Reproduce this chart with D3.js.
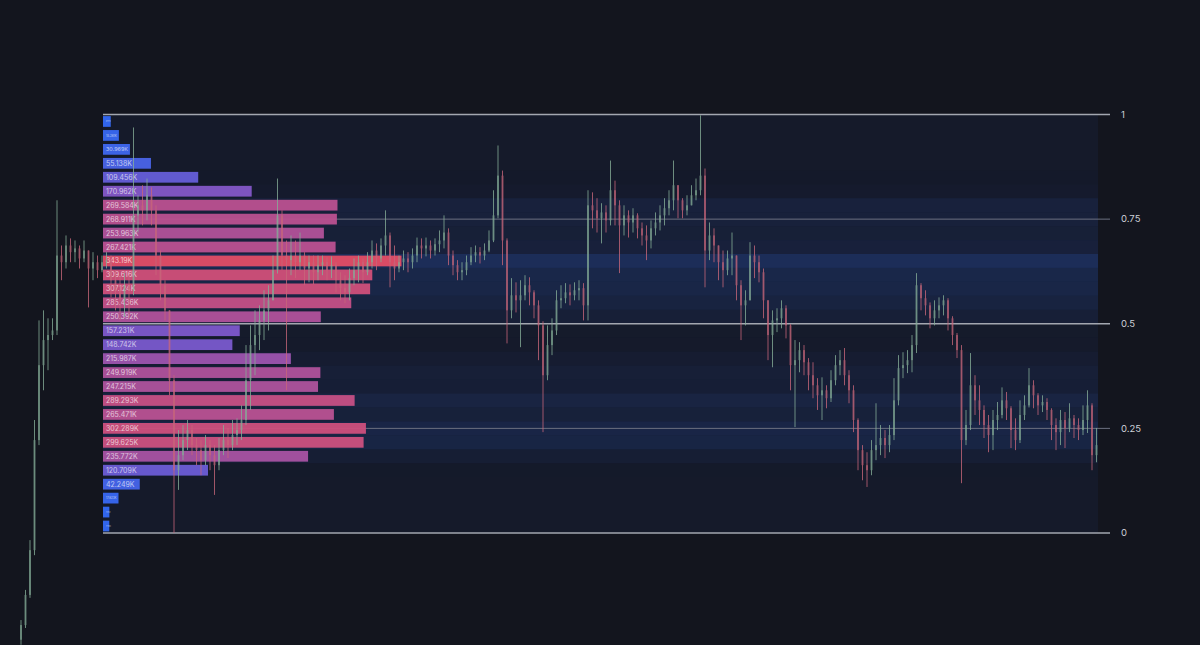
<!DOCTYPE html>
<html><head><meta charset="utf-8">
<script src="https://cdn.jsdelivr.net/npm/d3@7"></script>
<style>
html,body{margin:0;padding:0;background:#13151e;}
svg{display:block;}
</style>
</head><body>
<svg id="chart" width="1200" height="645"></svg>
<script>
// Fibonacci-style levels on the right axis
const levels = [0, 0.25, 0.5, 0.75, 1];
const levelLabels = ["0", "0.25", "0.5", "0.75", "1"];

// Volume profile (K), 30 price bins from top (level 1) to bottom (level 0)
const volumeK = [8.912, 18.261, 30.969, 55.138, 109.456, 170.962, 269.584, 268.911, 253.963, 267.421,
  343.19, 309.616, 307.124, 285.436, 250.392, 157.231, 148.742, 215.987, 249.919, 247.215,
  289.293, 265.471, 302.289, 299.625, 235.772, 120.709, 42.249, 17.823, 7.315, 7.208];

// Candles (price in level units)
const opens = [-.255,-.220,-.148,-.041,.222,.401,.461,.473,.484,.663,
.647,.687,.671,.680,.656,.675,.632,.647,.628,.647,
.652,.604,.580,.556,.592,.580,.759,.783,.771,.807,
.771,.663,.592,.532,.365,.150,.186,.222,.246,.210,
.198,.174,.210,.186,.162,.198,.222,.210,.234,.246,
.270,.365,.449,.473,.508,.532,.556,.628,.759,.663,
.652,.663,.647,.663,.632,.647,.623,.640,.647,.628,
.640,.604,.585,.575,.609,.628,.647,.623,.647,.675,
.656,.687,.711,.647,.632,.647,.656,.647,.663,.687,
.680,.687,.675,.690,.699,.718,.663,.640,.623,.628,
.647,.663,.671,.663,.675,.699,.759,.854,.699,.532,
.568,.556,.568,.592,.575,.544,.496,.377,.449,.484,
.556,.561,.575,.568,.580,.585,.544,.783,.771,.752,
.766,.747,.819,.783,.735,.759,.742,.759,.728,.711,
.699,.728,.742,.759,.776,.795,.831,.795,.771,.783,
.807,.819,.854,.675,.711,.687,.647,.628,.656,.663,
.592,.544,.556,.663,.647,.623,.556,.473,.508,.513,
.537,.496,.401,.413,.437,.408,.377,.353,.329,.341,
.322,.365,.401,.413,.377,.341,.270,.198,.162,.150,
.198,.210,.227,.210,.234,.317,.394,.401,.413,.449,
.592,.561,.544,.513,.532,.544,.556,.513,.473,.437,
.222,.258,.353,.317,.294,.258,.234,.270,.282,.317,
.298,.246,.222,.282,.305,.353,.329,.305,.313,.294,
.258,.241,.270,.251,.274,.258,.246,.270,.305,.186];
const highs = [-.208,-.136,-.017,.270,.508,.532,.513,.513,.795,.687,
.711,.704,.699,.687,.699,.675,.671,.663,.663,.671,
.663,.628,.616,.621,.616,.969,.807,.831,.847,.826,
.783,.675,.604,.532,.377,.246,.258,.270,.258,.227,
.222,.234,.222,.210,.227,.258,.251,.270,.274,.305,
.449,.496,.532,.544,.580,.592,.663,.847,.771,.699,
.711,.699,.718,.671,.663,.663,.663,.663,.659,.661,
.647,.623,.616,.632,.656,.663,.656,.671,.699,.692,
.704,.771,.718,.687,.663,.675,.671,.680,.706,.704,
.706,.699,.704,.723,.759,.728,.675,.652,.647,.663,
.683,.687,.683,.692,.723,.819,.926,.866,.704,.609,
.599,.604,.616,.611,.580,.556,.506,.496,.513,.580,
.592,.597,.594,.599,.604,.597,.819,.814,.800,.788,
.783,.890,.842,.795,.783,.771,.776,.764,.742,.735,
.747,.766,.783,.800,.819,.890,.831,.800,.807,.831,
.847,.998,.871,.742,.728,.687,.675,.675,.718,.663,
.604,.580,.695,.687,.663,.632,.556,.532,.537,.556,
.544,.499,.461,.456,.449,.418,.408,.370,.372,.353,
.389,.425,.437,.442,.389,.353,.274,.210,.193,.222,
.310,.258,.246,.258,.370,.425,.432,.437,.473,.621,
.597,.580,.551,.556,.563,.568,.561,.518,.478,.449,
.294,.430,.377,.353,.305,.282,.294,.313,.348,.337,
.303,.274,.317,.329,.394,.365,.334,.329,.322,.298,
.274,.294,.289,.310,.282,.274,.305,.341,.310,.251];
const lows = [-.267,-.227,-.155,-.053,.210,.341,.389,.461,.473,.604,
.632,.647,.647,.632,.647,.539,.604,.609,.623,.632,
.563,.532,.508,.516,.513,.568,.718,.735,.747,.735,
.616,.556,.508,.329,.000,.103,.174,.198,.186,.162,
.138,.162,.150,.091,.150,.186,.179,.198,.210,.222,
.258,.294,.377,.437,.461,.484,.556,.620,.628,.341,
.616,.609,.628,.592,.599,.594,.604,.616,.604,.609,
.575,.556,.549,.556,.592,.599,.597,.616,.632,.628,
.647,.663,.587,.604,.623,.628,.623,.632,.647,.656,
.661,.656,.663,.671,.680,.640,.616,.604,.604,.616,
.640,.647,.644,.652,.671,.695,.752,.640,.453,.513,
.527,.444,.556,.544,.513,.413,.241,.365,.425,.473,
.537,.549,.544,.556,.556,.508,.508,.728,.718,.692,
.718,.735,.735,.621,.711,.706,.718,.704,.687,.652,
.680,.711,.723,.735,.759,.771,.752,.752,.759,.783,
.795,.807,.587,.652,.647,.604,.587,.616,.616,.556,
.461,.496,.556,.609,.599,.513,.413,.396,.480,.489,
.465,.341,.253,.384,.377,.341,.322,.294,.270,.298,
.313,.353,.377,.353,.310,.241,.150,.126,.110,.138,
.174,.186,.179,.193,.222,.305,.370,.382,.384,.430,
.532,.520,.489,.496,.513,.520,.484,.449,.418,.119,
.210,.246,.282,.258,.227,.193,.198,.246,.274,.270,
.203,.198,.215,.270,.300,.298,.282,.289,.270,.222,
.198,.210,.203,.241,.227,.222,.234,.239,.150,.169];
const closes = [-.220,-.148,-.041,.222,.401,.461,.473,.484,.663,.647,
.687,.671,.680,.656,.675,.632,.647,.628,.647,.652,
.604,.580,.556,.592,.580,.759,.783,.771,.807,.771,
.663,.592,.532,.365,.150,.186,.222,.246,.210,.198,
.174,.210,.186,.162,.198,.222,.210,.234,.246,.270,
.365,.449,.473,.508,.532,.556,.628,.759,.663,.652,
.663,.647,.663,.632,.647,.623,.640,.647,.628,.640,
.604,.585,.575,.609,.628,.647,.623,.647,.675,.656,
.687,.711,.647,.632,.647,.656,.647,.663,.687,.680,
.687,.675,.690,.699,.718,.663,.640,.623,.628,.647,
.663,.671,.663,.675,.699,.759,.854,.699,.532,.568,
.556,.568,.592,.575,.544,.496,.377,.449,.484,.556,
.561,.575,.568,.580,.585,.544,.783,.771,.752,.766,
.747,.819,.783,.735,.759,.742,.759,.728,.711,.699,
.728,.742,.759,.776,.795,.831,.795,.771,.783,.807,
.819,.854,.675,.711,.687,.647,.628,.656,.663,.592,
.544,.556,.663,.647,.623,.556,.473,.508,.513,.537,
.496,.401,.413,.437,.408,.377,.353,.329,.341,.322,
.365,.401,.413,.377,.341,.270,.198,.162,.150,.198,
.210,.227,.210,.234,.317,.394,.401,.413,.449,.592,
.561,.544,.513,.532,.544,.556,.513,.473,.437,.222,
.258,.353,.317,.294,.258,.234,.270,.282,.317,.298,
.246,.222,.282,.305,.353,.329,.305,.313,.294,.258,
.241,.270,.251,.274,.258,.246,.270,.305,.186,.210];

// ---------- drawing ----------
const W = 1200, H = 645;
const plot = {left: 103, right: 1098, top: 114.5, bottom: 533, lineRight: 1110};
const svg = d3.select("#chart");

svg.append("rect").attr("width", W).attr("height", H).attr("fill", "#13151e");

const y = d3.scaleLinear().domain([0, 1]).range([plot.bottom, plot.top]);
const x = d3.scaleLinear().domain([0, closes.length - 1]).range([21, 1096.5]);

const nBins = volumeK.length;
const bins = d3.range(nBins).map(i => ({
  i, v: volumeK[i], hi: 1 - i / nBins, lo: 1 - (i + 1) / nBins
}));
const vMax = d3.max(volumeK);
const vx = d3.scaleLinear().domain([0, vMax]).range([0, 0.3 * (plot.right - plot.left)]);
const colorScale = d3.scaleLinear().domain([0, 0.5, 1])
  .range(["#2f6af7", "#8457c8", "#e44d66"]).interpolate(d3.interpolateRgb);

// plot tint
svg.append("rect").attr("x", plot.left).attr("y", plot.top)
  .attr("width", plot.right - plot.left).attr("height", plot.bottom - plot.top)
  .attr("fill", "#151a2a");

// background bands (value-area shading)
svg.append("g").selectAll("rect").data(bins).join("rect")
  .attr("x", plot.left).attr("width", plot.right - plot.left)
  .attr("y", d => y(d.hi)).attr("height", d => y(d.lo) - y(d.hi))
  .attr("fill", "#1f3468")
  .attr("opacity", d => Math.pow(d.v / vMax, 4) * 0.75);

// level lines
svg.append("g").selectAll("line").data(levels).join("line")
  .attr("x1", plot.left).attr("x2", plot.lineRight)
  .attr("y1", d => y(d)).attr("y2", d => y(d))
  .attr("stroke", d => (d === 0.25 || d === 0.75) ? "#6b7080" : "#a3a7b0")
  .attr("stroke-width", d => (d === 0.25 || d === 0.75) ? 1 : 1.5);

// level labels
svg.append("g").selectAll("text").data(levels).join("text")
  .attr("x", 1121).attr("y", d => y(d))
  .attr("dy", "0.35em")
  .attr("fill", "#cdd0d7")
  .attr("font-family", "Inter, Roboto, 'DejaVu Sans', sans-serif")
  .attr("font-size", 9.5)
  .text((d, i) => levelLabels[i]);

// volume profile bars
const binH = y(0) - y(1 / nBins);
svg.append("g").selectAll("rect").data(bins).join("rect")
  .attr("x", plot.left)
  .attr("y", d => y(d.hi) + 1.6)
  .attr("width", d => vx(d.v))
  .attr("height", binH - 3.2)
  .attr("fill", d => colorScale(d.v / vMax))
  .attr("opacity", 0.95);

// bar labels
const fmt = v => d3.format(".3~f")(v) + "K";
const baseFont = 7;
const labels = svg.append("g").selectAll("text").data(bins).join("text")
  .attr("x", plot.left + 3)
  .attr("y", d => (y(d.hi) + y(d.lo)) / 2)
  .attr("dy", "0.36em")
  .attr("fill", "rgba(255,255,255,0.68)")
  .attr("font-family", "Inter, Roboto, 'DejaVu Sans', sans-serif")
  .attr("font-size", baseFont)
  .text(d => fmt(d.v));
labels.each(function(d) {
  const tw = this.getComputedTextLength();
  const avail = vx(d.v) - 5;
  if (tw > avail) {
    const fs = Math.max(1.5, baseFont * avail / tw);
    d3.select(this).attr("font-size", fs);
  }
});

// candles
const candles = closes.map((c, i) => ({
  i, o: opens[i], c,
  h: Math.max(highs[i], opens[i], c),
  l: Math.min(lows[i], opens[i], c)
}));
const upCol = "#86ae98", downCol = "#c8677a";
const cg = svg.append("g").attr("opacity", 0.78);
cg.selectAll("line").data(candles).join("line")
  .attr("x1", d => x(d.i)).attr("x2", d => x(d.i))
  .attr("y1", d => y(d.h)).attr("y2", d => y(d.l))
  .attr("stroke", d => d.c >= d.o ? upCol : downCol)
  .attr("stroke-width", 1);
cg.selectAll("rect").data(candles).join("rect")
  .attr("x", d => x(d.i) - 0.9)
  .attr("width", 1.8)
  .attr("y", d => y(Math.max(d.o, d.c)))
  .attr("height", d => Math.max(1, Math.abs(y(d.o) - y(d.c))))
  .attr("fill", d => d.c >= d.o ? upCol : downCol);
</script>
</body></html>
